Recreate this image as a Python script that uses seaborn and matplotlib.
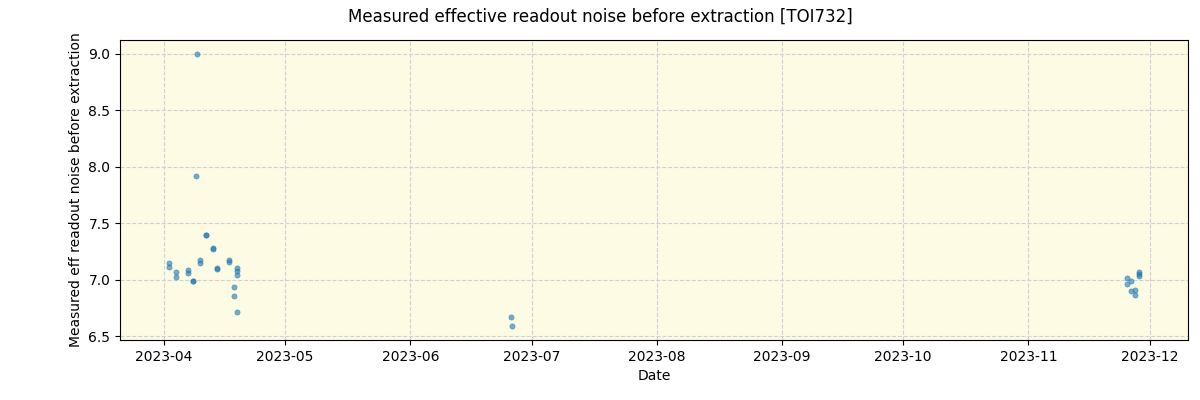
import pandas as pd
import matplotlib.pyplot as plt
import matplotlib.dates as mdates
import seaborn as sns

# observation times and measured noise values
dates = [
    "2023-04-02 08:00", "2023-04-02 08:30",
    "2023-04-04 00:00", "2023-04-04 00:30",
    "2023-04-07 00:00", "2023-04-07 00:30",
    "2023-04-08 07:00", "2023-04-08 07:30",
    "2023-04-09 00:00", "2023-04-09 07:00",
    "2023-04-10 00:00", "2023-04-10 00:30",
    "2023-04-11 07:00", "2023-04-11 07:30",
    "2023-04-13 05:00", "2023-04-13 05:30",
    "2023-04-14 05:00", "2023-04-14 05:30",
    "2023-04-17 05:00", "2023-04-17 05:30",
    "2023-04-18 10:00", "2023-04-18 10:30",
    "2023-04-19 02:00", "2023-04-19 02:30", "2023-04-19 03:00", "2023-04-19 03:30",
    "2023-06-26 00:00", "2023-06-26 04:00",
    "2023-11-25 10:00", "2023-11-25 10:30",
    "2023-11-26 10:00", "2023-11-26 09:00",
    "2023-11-27 09:00", "2023-11-27 10:00",
    "2023-11-28 10:00", "2023-11-28 10:30", "2023-11-28 11:00",
]
noise = [
    7.147, 7.109,
    7.065, 7.020,
    7.083, 7.056,
    6.990, 6.985,
    7.916, 9.000,
    7.174, 7.145,
    7.398, 7.392,
    7.277, 7.272,
    7.100, 7.098,
    7.174, 7.153,
    6.932, 6.852,
    7.100, 7.079, 7.038, 6.710,
    6.667, 6.588,
    7.014, 6.958,
    6.990, 6.900,
    6.910, 6.866,
    7.070, 7.050, 7.030,
]

df = pd.DataFrame({"date": pd.to_datetime(dates), "noise": noise})

fig, ax = plt.subplots(figsize=(12, 4), dpi=100)
fig.subplots_adjust(left=0.10, right=0.99, top=0.90, bottom=0.15)
ax.set_facecolor("#fdfbe3")

sns.scatterplot(data=df, x="date", y="noise", ax=ax, s=14, color="tab:blue",
                alpha=0.6, edgecolor="tab:blue", linewidth=0.5, zorder=3)

ax.grid(True, linestyle="--", color="#cfd0dc", linewidth=0.8)
ax.set_axisbelow(True)
ax.set_xlim(pd.Timestamp("2023-03-21 03:00"), pd.Timestamp("2023-12-10 12:00"))
ax.set_ylim(6.465, 9.124)
ax.xaxis.set_major_locator(mdates.MonthLocator())
ax.xaxis.set_major_formatter(mdates.DateFormatter("%Y-%m"))
ax.set_yticks([6.5, 7.0, 7.5, 8.0, 8.5, 9.0])

ax.set_xlabel("Date")
ax.set_ylabel("Measured eff readout noise before extraction")
fig.suptitle("Measured effective readout noise before extraction [TOI732]", fontsize=12)

plt.savefig("out.png", dpi=100)
plt.close()
